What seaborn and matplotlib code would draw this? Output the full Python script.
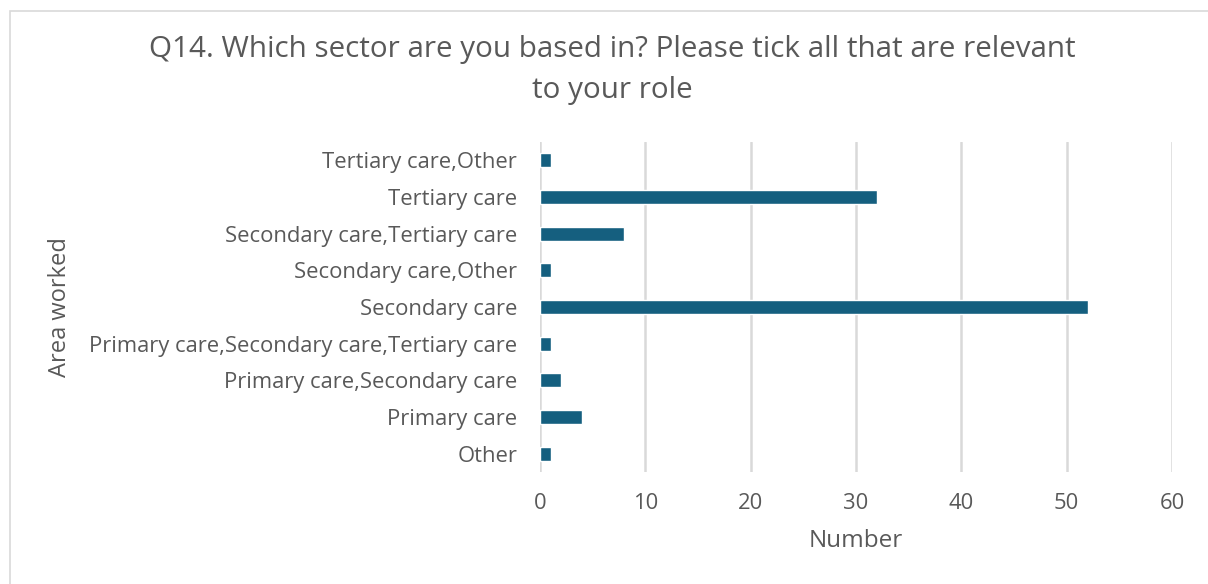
import matplotlib
matplotlib.use("Agg")
import matplotlib.pyplot as plt
import seaborn as sns
import pandas as pd
from matplotlib.patches import Rectangle

# Chart data
categories = [
    "Tertiary care,Other",
    "Tertiary care",
    "Secondary care,Tertiary care",
    "Secondary care,Other",
    "Secondary care",
    "Primary care,Secondary care,Tertiary care",
    "Primary care,Secondary care",
    "Primary care",
    "Other",
]
counts = [1, 32, 8, 1, 52, 1, 2, 4, 1]
x_ticks = [0, 10, 20, 30, 40, 50, 60]

df = pd.DataFrame({"area": categories, "number": counts})

sns.set_theme(style="white")
plt.rcParams['font.family'] = ['Open Sans', 'DejaVu Sans']

text_color = "#595959"
bar_color = "#155f7f"

fig = plt.figure(figsize=(12.08, 5.84), dpi=100)
ax = fig.add_axes([540 / 1208, 1 - 472 / 584, (1172 - 540) / 1208, (472 - 142) / 584])

sns.barplot(data=df, x="number", y="area", color=bar_color, width=0.38,
            saturation=1, ax=ax, zorder=3)

ax.set_xlim(0, 60)
ax.set_xticks(x_ticks)
ax.grid(axis="x", color="#d9d9d9", linewidth=1.8, zorder=0)
for s in ax.spines.values():
    s.set_visible(False)
ax.tick_params(axis="both", length=0, labelsize=15.8, labelcolor=text_color)
ax.tick_params(axis="y", pad=16.5)
ax.tick_params(axis="x", pad=15)
ax.set_xlabel("Number", fontsize=17.5, color=text_color, labelpad=11)
ax.set_ylabel("")
fig.text(60 / 1208, 1 - 307 / 584, "Area worked", rotation=90, fontsize=17,
         color=text_color, ha="center", va="center")

fig.text(612 / 1208, 1 - 50 / 584, "Q14. Which sector are you based in? Please tick all that are relevant",
         fontsize=21.3, color=text_color, ha="center", va="center")
fig.text(612 / 1208, 1 - 90 / 584, "to your role",
         fontsize=21.3, color=text_color, ha="center", va="center")

# light frame of the chart area
fig.patches.append(Rectangle((10 / 1208, -0.1), 1.2, 1 - 11 / 584 + 0.1,
                             transform=fig.transFigure, fill=False,
                             edgecolor="#d9d9d9", linewidth=1.2))

fig.savefig("out.png", dpi=100)
